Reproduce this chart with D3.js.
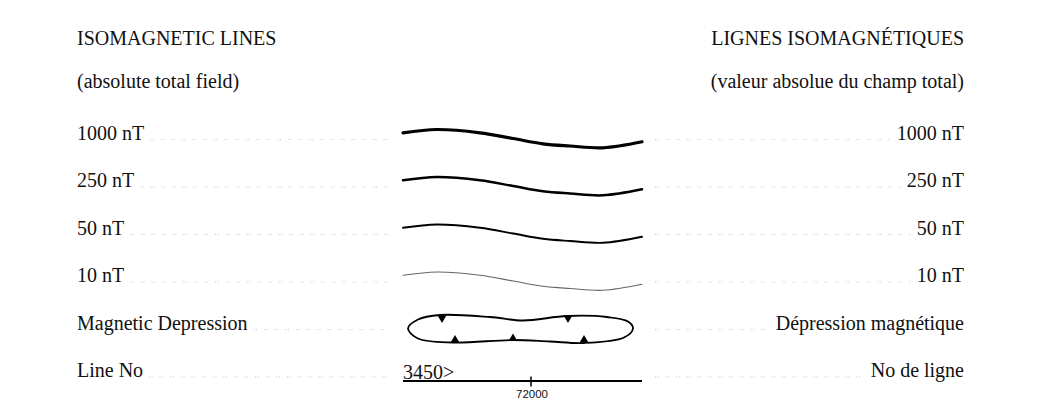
<!DOCTYPE html>
<html>
<head>
<meta charset="utf-8">
<script src="https://cdn.jsdelivr.net/npm/d3@7"></script>
<style>
  html, body { margin: 0; padding: 0; background: #fff; }
  svg text { font-family: "Liberation Serif", "Times New Roman", serif; fill: #111; }
</style>
</head>
<body>
<svg id="legend" width="1048" height="401"></svg>
<script>
// legend content
const titleEn = ["ISOMAGNETIC LINES", "(absolute total field)"];
const titleFr = ["LIGNES ISOMAGNÉTIQUES", "(valeur absolue du champ total)"];
const labelsEn = ["1000 nT", "250 nT", "50 nT", "10 nT", "Magnetic Depression", "Line No"];
const labelsFr = ["1000 nT", "250 nT", "50 nT", "10 nT", "Dépression magnétique", "No de ligne"];
const contourLevels = [1000, 250, 50, 10];

// sample contour profile (distance along sample, offset from row baseline)
const profileX = [0, 34, 77, 110, 140, 167, 200, 239];
const profileY = [-6.7, -10, -6.7, -1, 4.3, 6.5, 8.3, 2.3];

// closed depression outline
const depressionX = [5, 15, 37, 87, 120, 164, 204, 225, 230, 221, 181, 147, 110, 50, 15];
const depressionY = [-1, -10, -14.5, -12.5, -9, -13.5, -12.5, -8, -1, 8, 13.5, 12, 10.5, 13, 9];
// hachure ticks pointing inward
const tickX = [39, 165, 52, 110, 181];
const tickY = [-11.5, -11.5, 10.5, 9, 10.5];
const tickDown = [true, true, false, false, false];

// flight line sample
const lineNumber = "3450>";
const lineExtent = [0, 239];
const fiducial = 72000;
const fiducialX = 128;

let svg = d3.select("#legend");

let x = d3.scaleLinear().domain([0, 239]).range([403, 642]);
let row = d3.scaleLinear().domain([0, 5]).range([139.5, 377]);
let dy = d3.scaleLinear().domain([-10, 10]).range([-10, 10]);

const leftX = 77, rightX = 964;
const leaderLeftEnd = 390, leaderRightStart = 655;

// headers
titleEn.forEach(function(t, i) {
    svg.append("text").attr("x", leftX).attr("y", i == 0 ? 45 : 88)
       .attr("font-size", 20).text(t);
});
titleFr.forEach(function(t, i) {
    svg.append("text").attr("x", rightX).attr("y", i == 0 ? 45 : 88)
       .attr("text-anchor", "end").attr("font-size", 20).text(t);
});

// row labels + dotted leaders
let drawLeader = function(x1, x2, y) {
    if (x2 <= x1) return;
    svg.append("line")
       .attr("x1", x1).attr("x2", x2).attr("y1", y).attr("y2", y)
       .attr("stroke", "#c4c4c4").attr("stroke-width", 1)
       .attr("stroke-dasharray", "1,1.6,1,7");
};

labelsEn.forEach(function(t, i) {
    let y = row(i);
    let txt = svg.append("text").attr("x", leftX).attr("y", y).attr("font-size", 20).text(t);
    let w = txt.node().getComputedTextLength();
    drawLeader(leftX + w + 6, leaderLeftEnd, y);
});
labelsFr.forEach(function(t, i) {
    let y = row(i);
    let txt = svg.append("text").attr("x", rightX).attr("y", y)
       .attr("text-anchor", "end").attr("font-size", 20).text(t);
    let w = txt.node().getComputedTextLength();
    drawLeader(leaderRightStart, rightX - w - 6, y);
});

// contour samples
const strokeW = [3.2, 2.5, 1.9, 1.1];
const strokeC = ["#000", "#000", "#000", "#666"];
let profile = profileX.map(function(v, j) { return [v, profileY[j]]; });

contourLevels.forEach(function(level, i) {
    let base = row(i);
    let line = d3.line()
        .x(function(d) { return x(d[0]); })
        .y(function(d) { return base + dy(d[1]); })
        .curve(d3.curveCatmullRom.alpha(0.5));
    svg.append("path")
       .attr("class", "contour-" + level)
       .attr("d", line(profile))
       .attr("fill", "none")
       .attr("stroke", strokeC[i])
       .attr("stroke-width", strokeW[i])
       .attr("stroke-linecap", "round");
});

// magnetic depression
let dBase = row(4);
let outline = depressionX.map(function(v, j) { return [v, depressionY[j]]; });
let closed = d3.line()
    .x(function(d) { return x(d[0]); })
    .y(function(d) { return dBase + dy(d[1]); })
    .curve(d3.curveCatmullRomClosed.alpha(0.5));
svg.append("path")
   .attr("d", closed(outline))
   .attr("fill", "none").attr("stroke", "#000").attr("stroke-width", 1.8);

let tri = d3.symbol().type(d3.symbolTriangle).size(34);
tickX.forEach(function(v, j) {
    svg.append("path")
       .attr("d", tri())
       .attr("fill", "#000")
       .attr("transform", "translate(" + x(v) + "," + (dBase + dy(tickY[j])) + ")" +
             (tickDown[j] ? " rotate(180)" : ""));
});

// flight line
let lBase = row(5);
svg.append("text").attr("x", x(lineExtent[0])).attr("y", lBase + 1.5)
   .attr("font-size", 20).text(lineNumber);
svg.append("line")
   .attr("x1", x(lineExtent[0])).attr("x2", x(lineExtent[1]))
   .attr("y1", lBase + 4).attr("y2", lBase + 4)
   .attr("stroke", "#000").attr("stroke-width", 1.8);
svg.append("line")
   .attr("x1", x(fiducialX)).attr("x2", x(fiducialX))
   .attr("y1", lBase - 0.5).attr("y2", lBase + 9.5)
   .attr("stroke", "#000").attr("stroke-width", 1.5);
svg.append("text")
   .attr("x", x(fiducialX) + 1).attr("y", lBase + 21)
   .attr("text-anchor", "middle")
   .style("font-family", "'Liberation Sans', Arial, sans-serif")
   .attr("font-size", 11.5)
   .text(fiducial);
</script>
</body>
</html>
